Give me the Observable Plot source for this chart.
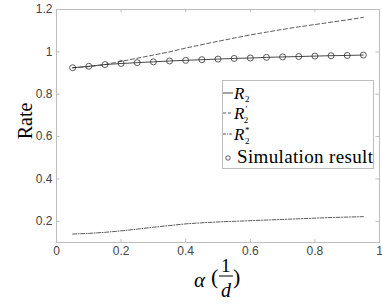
<!DOCTYPE html>
<html><head><meta charset="utf-8">
<script src="https://cdn.jsdelivr.net/npm/d3@7"></script>
<script src="https://cdn.jsdelivr.net/npm/@observablehq/plot@0.6"></script>
<style>
body{margin:0;background:#fff;}
#wrap{position:relative;width:382px;height:307px;overflow:hidden;}
.serif, .serif *{font-family:'Liberation Serif', 'DejaVu Serif', serif;color:#000;}
#legend{position:absolute;left:222px;top:80px;width:152px;height:89px;border:1px solid #bdbdbd;background:#fff;box-sizing:border-box;}
.a{position:absolute;line-height:1;white-space:nowrap;}
#ylab{position:absolute;left:5px;top:111px;transform:rotate(-90deg);font-size:20px;width:40px;text-align:center;line-height:1;}
</style></head>
<body>
<div id="wrap"></div>
<script>
const alpha = [0.05,0.1,0.15,0.2,0.25,0.3,0.35,0.4,0.45,0.5,0.55,0.6,0.65,0.7,0.75,0.8,0.85,0.9,0.95];
const R2 = [0.925,0.932,0.94,0.945,0.949,0.953,0.957,0.96,0.963,0.966,0.969,0.971,0.974,0.976,0.978,0.98,0.982,0.983,0.985];
const R2prime = [0.925,0.93,0.94,0.955,0.97,0.985,1.0,1.018,1.034,1.05,1.065,1.08,1.093,1.106,1.118,1.129,1.14,1.151,1.163];
const R2star = [0.14,0.143,0.148,0.155,0.163,0.172,0.18,0.188,0.193,0.197,0.2,0.203,0.206,0.209,0.212,0.215,0.218,0.22,0.222];
const simulation = [0.925,0.932,0.94,0.945,0.949,0.953,0.957,0.96,0.963,0.966,0.969,0.971,0.974,0.976,0.978,0.98,0.982,0.983,0.985];
const xTicks = [0,0.2,0.4,0.6,0.8,1];
const yTicks = [0.2,0.4,0.6,0.8,1,1.2];

const rows = (ys) => alpha.map((a,i)=>({x:a,y:ys[i]}));
const gray = "#bdbdbd";
const lineColor = "#333";

const chart = Plot.plot({
  width:382, height:307,
  marginLeft:56, marginRight:3, marginTop:9, marginBottom:65,
  style:{background:"#fff"},
  x:{domain:[0,1], label:null},
  y:{domain:[0.1,1.2], label:null},
  marks:[
    Plot.frame({stroke:gray}),
    Plot.ruleX(xTicks,{x:d=>d, y1:0.1, y2:0.115, stroke:gray}),
    Plot.ruleX(xTicks,{x:d=>d, y1:1.2, y2:1.185, stroke:gray}),
    Plot.ruleY(yTicks,{y:d=>d, x1:0, x2:0.011, stroke:gray}),
    Plot.ruleY(yTicks,{y:d=>d, x1:1, x2:0.989, stroke:gray}),
    Plot.axisX({ticks:xTicks, tickSize:0, tickPadding:4, tickFormat:d=>String(d), fontSize:12, fill:"#444", fontFamily:"Liberation Sans, sans-serif"}),
    Plot.axisY({ticks:yTicks, tickSize:0, tickPadding:4, tickFormat:d=>String(d), fontSize:12, fill:"#444", fontFamily:"Liberation Sans, sans-serif"}),
    Plot.line(rows(R2prime),{x:"x",y:"y",stroke:lineColor,strokeWidth:0.8,strokeDasharray:"4,2.5"}),
    Plot.line(rows(R2star),{x:"x",y:"y",stroke:lineColor,strokeWidth:0.8,strokeDasharray:"4,1.5,1,1.5"}),
    Plot.line(rows(R2),{x:"x",y:"y",stroke:lineColor,strokeWidth:0.9}),
    Plot.dot(rows(simulation),{x:"x",y:"y",r:3,stroke:lineColor,strokeWidth:0.8,fill:"none"})
  ]
});
const wrap = document.getElementById("wrap");
wrap.appendChild(chart);

const legendHTML = `
<div id="legend" class="serif">
  <svg class="a" style="left:0;top:0" width="150" height="87" font-family="Liberation Serif, DejaVu Serif, serif">
    <line x1="0" x2="10" y1="12" y2="12" stroke="${lineColor}" stroke-width="0.9"/>
    <line x1="0" x2="10" y1="32" y2="32" stroke="${lineColor}" stroke-width="0.8" stroke-dasharray="3,2"/>
    <line x1="0" x2="10" y1="53" y2="53" stroke="${lineColor}" stroke-width="0.8" stroke-dasharray="3,1,1,1"/>
    <circle cx="5" cy="77" r="2.2" fill="none" stroke="${lineColor}" stroke-width="0.8"/>
    <text x="11" y="17.5" font-size="17"><tspan font-style="italic">R</tspan><tspan font-size="9" dx="0.5" dy="3">2</tspan></text>
    <text x="11" y="37.5" font-size="17"><tspan font-style="italic">R</tspan><tspan font-size="9" dx="1" dy="-7">′</tspan><tspan font-size="9" dx="-3.5" dy="11">2</tspan></text>
    <text x="11" y="58.5" font-size="17"><tspan font-style="italic">R</tspan><tspan font-size="9" dx="0.5" dy="-7">*</tspan><tspan font-size="9" dx="-4.5" dy="11">2</tspan></text>
    <text x="14" y="82" font-size="19" letter-spacing="0.35">Simulation result</text>
  </svg>
</div>
<div id="ylab" class="serif">Rate</div>
<div class="serif">
  <span class="a" style="left:194px;top:270px;font-size:21px;font-style:italic">α</span>
  <span class="a" style="left:211px;top:266px;font-size:22px">(</span>
  <span class="a" style="left:221px;top:256px;font-size:19px">1</span>
  <svg class="a" style="left:219px;top:275px" width="14" height="2"><line x1="0" x2="14" y1="1" y2="1" stroke="#000" stroke-width="1"/></svg>
  <span class="a" style="left:221px;top:280px;font-size:20px;font-style:italic">d</span>
  <span class="a" style="left:233px;top:266px;font-size:22px">)</span>
</div>`;
wrap.insertAdjacentHTML("beforeend", legendHTML);
</script>
</body></html>
